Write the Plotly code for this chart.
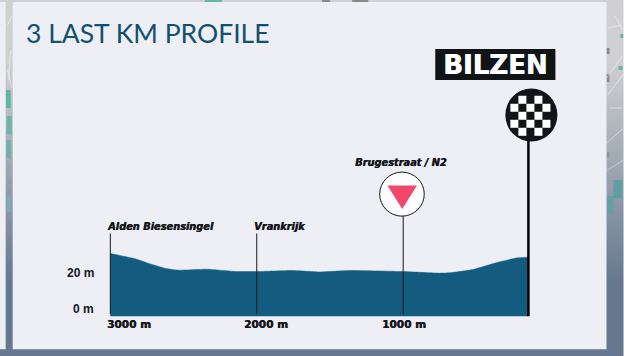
import plotly.graph_objects as go

W, H = 636, 356
title = "3 LAST KM PROFILE"
dist_to_go = [3000, 2820, 2730, 2630, 2540, 2340, 2135, 2000, 1755, 1570, 1365, 1000, 750, 680, 525, 360, 220, 145]
elevation = [30.9, 27.8, 25.2, 22.8, 21.7, 22.2, 20.9, 20.9, 21.5, 20.7, 21.5, 20.9, 20.0, 20.2, 22.0, 25.9, 28.5, 28.9]
x_labels = ["3000 m", "2000 m", "1000 m"]
y_labels = ["20 m", "0 m"]
y_label_values = [20, 0]
places = ["Alden Biesensingel", "Vrankrijk", "Brugestraat / N2"]
place_km = [3000, 2000, 1000]
place_top = [42, 42, 52]
finish_name = "BILZEN"
finish_km = 145
finish_top = 94

NAVY = "#135c7f"
INK = "#14171a"
PANEL = "#eeeff4"
BLACK_FONT = "DejaVu Sans"
HEAVY = "0.5px 0 0 #14171a"
L, R, T, B = 103.2, 534.6, 0.0, 319.8


def px(x):
    return (x - L) / (R - L)


def py(y):
    return (B - y) / (B - T)


def rect(x0, y0, x1, y1, fill, layer="below"):
    return dict(type="rect", xref="paper", yref="paper", x0=px(x0), x1=px(x1), y0=py(y0), y1=py(y1),
                fillcolor=fill, line_width=0, layer=layer)


def seg(x0, y0, x1, y1, color="rgba(255,255,255,0.45)", width=1):
    return dict(type="line", xref="paper", yref="paper", x0=px(x0), x1=px(x1), y0=py(y0), y1=py(y1),
                line=dict(color=color, width=width), layer="below")


def lerp(a, b, t):
    return "#" + "".join(f"{round(a[i] + (b[i] - a[i]) * t):02x}" for i in range(3))


shapes = []
top_c, bot_c = (208, 208, 210), (101, 120, 143)
# overlapping bands, painted top to bottom, so that no seams show between them
for i in range(0, H, 4):
    t = min(1, max(0, (i - 60) / 220))
    shapes.append(rect(0, i, 623, H, lerp(top_c, bot_c, t)))
# background map flecks visible in the margins
for x0, y0, x1, y1, c in [
    (6, 90, 11, 108, "#62b5a2"), (7, 116, 12, 134, "#6fb3a6"), (7, 140, 11, 158, "#6fb0a6"),
    (7, 195, 11, 212, "#79aeac"), (613, 180, 622, 198, "#5f9f9f"), (607, 196, 613, 214, "#62a0a2"),
    (618, 66, 622, 70, "#62b5a2"), (620, 34, 623, 38, "#62b5a2"), (205, 0, 222, 2, "#5fbaa3"),
    (606, 48, 609, 54, "#8a8a8a"), (606, 74, 609, 82, "#8a8a8a"), (606, 152, 609, 157, "#8f959c"),
    (322, 0, 330, 2, "#8a8a8a"), (352, 0, 368, 2, "#8a8a8a"),
]:
    shapes.append(rect(x0, y0, x1, y1, c))
for s in [(606, 143, 623, 128), (607, 95, 623, 74), (606, 78, 622, 56), (607, 28, 622, 25),
          (615, 16, 622, 30), (609, 108, 622, 108), (8, 25, 12, 16), (9, 80, 11, 50),
          (607, 170, 623, 160), (8, 70, 12, 88)]:
    shapes.append(seg(*s))
shapes.append(rect(0, 2, 6, 349, PANEL))
shapes.append(rect(13, 2, 606, 349, PANEL))
shapes.append(rect(623, 0, 636, 356, "#ffffff"))

# Bilzen banner
shapes.append(rect(435, 49, 555, 80, "#101417", "above"))
# finish disc
shapes.append(dict(type="circle", xref="paper", yref="paper", x0=px(505), x1=px(557), y0=py(88.5), y1=py(141.5),
                   fillcolor="#111518", line_width=0, layer="above"))
cells = [(1, 0), (3, 0), (0, 1), (2, 1), (4, 1), (1, 2), (3, 2), (0, 3), (2, 3), (4, 3), (1, 4), (3, 4)]
for c, r in cells:
    shapes.append(rect(510 + 8 * c, 95.7 + 8 * r, 518 + 8 * c, 103.7 + 8 * r, "#ffffff", "above"))
# sprint disc
shapes.append(dict(type="circle", xref="paper", yref="paper", x0=px(379.5), x1=px(424), y0=py(172), y1=py(216),
                   fillcolor="#ffffff", line=dict(color=INK, width=1), layer="above"))
shapes.append(dict(type="path", xref="paper", yref="paper",
                   path=f"M {px(390)} {py(187)} L {px(414)} {py(187)} L {px(402)} {py(206)} Z",
                   fillcolor="#f0476b", line=dict(color="#f0476b", width=3), layer="above"))

fig = go.Figure()
fig.add_trace(go.Scatter(x=dist_to_go, y=elevation, mode="lines", fill="tozeroy",
                         line=dict(color=NAVY, width=0.5, shape="spline", smoothing=0.4),
                         fillcolor=NAVY, hoverinfo="skip"))
fig.add_trace(go.Scatter(x=[3000, 145, 145, 3000], y=[1, 1, -3.9, -3.9], mode="lines", fill="toself",
                         line=dict(width=0), fillcolor=NAVY, hoverinfo="skip"))
for k, top in zip(place_km, place_top):
    fig.add_trace(go.Scatter(x=[k, k], y=[-2.8, top], mode="lines",
                             line=dict(color=INK, width=1), hoverinfo="skip"))
fig.add_trace(go.Scatter(x=[finish_km, finish_km], y=[-3.9, finish_top], mode="lines",
                         line=dict(color="#000000", width=2.5), hoverinfo="skip"))

ann = [dict(text=title, x=px(24.5), y=py(33), xanchor="left", yanchor="middle",
            font=dict(family="Lato", size=26.5, color="#12506f"))]
ann.append(dict(text=f"<b>{finish_name}</b>", x=px(495), y=py(65), xanchor="center", yanchor="middle",
                font=dict(family=BLACK_FONT, size=26, color="#ffffff", shadow="0.7px 0 0 #ffffff")))
for t, xc, yc in zip(places, [105, 252, 353], [226, 226, 162]):
    ann.append(dict(text=f"<b><i>{t}</i></b>", x=px(xc), y=py(yc), xanchor="left", yanchor="middle",
                    font=dict(family=BLACK_FONT, size=9.8, color=INK, shadow=HEAVY)))
for t, xc in zip(x_labels, [129.5, 266, 404]):
    ann.append(dict(text=f"<b>{t}</b>", x=px(xc), y=py(324), xanchor="center", yanchor="middle",
                    font=dict(family=BLACK_FONT, size=10.5, color=INK, shadow=HEAVY)))
for t, v in zip(y_labels, y_label_values):
    ann.append(dict(text=f"<b>{t}</b>", x=px(96), y=v, yref="y", xanchor="right", yanchor="middle",
                    font=dict(family="Liberation Sans Narrow, Liberation Sans", size=12, color=INK)))
for a in ann:
    a.update(xref="paper", showarrow=False)
    a.setdefault("yref", "paper")

fig.update_layout(
    width=W, height=H, showlegend=False, paper_bgcolor=PANEL, plot_bgcolor="rgba(0,0,0,0)",
    margin=dict(l=L, r=W - R, t=T, b=H - B, pad=0),
    xaxis=dict(range=[3050, 100], visible=False, fixedrange=True),
    yaxis=dict(range=[-6, 171.7], visible=False, fixedrange=True),
    shapes=shapes, annotations=ann,
)
fig.update_traces(cliponaxis=False)
fig.write_html("out.html", config={"displayModeBar": False},
               post_script="document.body.style.margin='0';document.body.style.overflow='hidden';")
